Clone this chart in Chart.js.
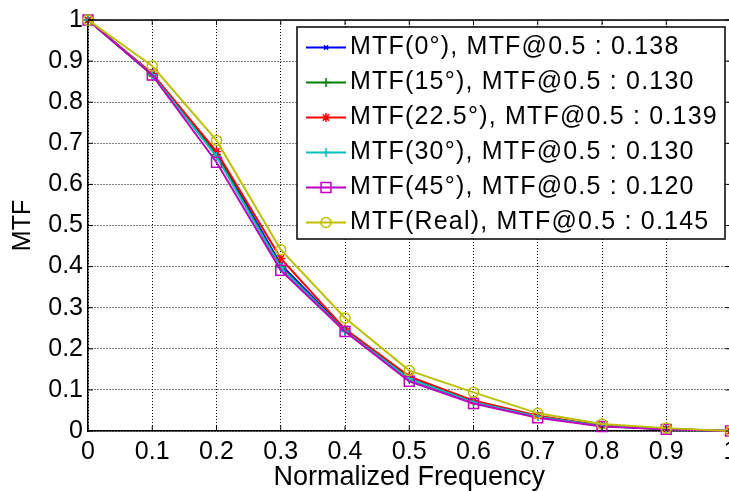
<!DOCTYPE html>
<html lang="en">
<head>
<meta charset="UTF-8">
<title>MTF vs Normalized Frequency</title>
<script src="https://cdn.jsdelivr.net/npm/chart.js@4.4.5/dist/chart.umd.min.js"></script>
<style>
    html, body { margin: 0; padding: 0; background: #fff; overflow: hidden; }
    #wrap { width: 729px; height: 491px; overflow: hidden; }
</style>
</head>
<body>
<div id="wrap">
    <canvas id="myChart" width="745" height="500"></canvas>
</div>

<script>
    // normalized frequency (x) and MTF curves
    const freq = [0, 0.1, 0.2, 0.3, 0.4, 0.5, 0.6, 0.7, 0.8, 0.9, 1];
    const mtf0 = [1, 0.868, 0.678, 0.405, 0.246, 0.131, 0.071, 0.036, 0.013, 0.005, 0];
    const mtf15 = [1, 0.866, 0.672, 0.400, 0.244, 0.127, 0.070, 0.035, 0.012, 0.004, 0];
    const mtf225 = [1, 0.870, 0.680, 0.420, 0.248, 0.133, 0.074, 0.037, 0.013, 0.005, 0];
    const mtf30 = [1, 0.867, 0.668, 0.398, 0.243, 0.127, 0.070, 0.035, 0.012, 0.004, 0];
    const mtf45 = [1, 0.866, 0.654, 0.391, 0.242, 0.121, 0.067, 0.032, 0.011, 0.004, 0];
    const mtfReal = [1, 0.888, 0.707, 0.441, 0.275, 0.147, 0.094, 0.043, 0.017, 0.007, 0];

    const seriesLabels = [
        'MTF(0°), MTF@0.5 : 0.138',
        'MTF(15°), MTF@0.5 : 0.130',
        'MTF(22.5°), MTF@0.5 : 0.139',
        'MTF(30°), MTF@0.5 : 0.130',
        'MTF(45°), MTF@0.5 : 0.120',
        'MTF(Real), MTF@0.5 : 0.145'
    ];
    const xTicks = [0, 0.1, 0.2, 0.3, 0.4, 0.5, 0.6, 0.7, 0.8, 0.9, 1];
    const yTicks = [0, 0.1, 0.2, 0.3, 0.4, 0.5, 0.6, 0.7, 0.8, 0.9, 1];

    const FONT = "'Liberation Sans', Arial, sans-serif";
    Chart.defaults.font.family = FONT;
    Chart.defaults.color = '#000';

    const colors = ['#0000ff', '#008000', '#ff0000', '#00bfbf', '#bf00bf', '#bfbf00'];
    const markers = [
        {style: 'crossRot', r: 3},
        {style: 'cross', r: 4.5},
        {style: 'star', r: 4.5},
        {style: 'cross', r: 4.5},
        {style: 'rect', r: 7},
        {style: 'circle', r: 5}
    ];
    const curves = [mtf0, mtf15, mtf225, mtf30, mtf45, mtfReal];

    function pts(ys) {
        return freq.map((f, i) => ({x: f, y: ys[i]}));
    }

    const datasets = curves.map((ys, i) => ({
        label: seriesLabels[i],
        data: pts(ys),
        borderColor: colors[i],
        backgroundColor: 'rgba(0,0,0,0)',
        borderWidth: 2,
        pointStyle: markers[i].style,
        pointRadius: markers[i].r,
        pointBorderWidth: 1.5,
        pointBorderColor: colors[i],
        pointBackgroundColor: 'rgba(0,0,0,0)',
        tension: 0,
        clip: false,
        order: 5 - i   // later series on top, like MATLAB
    }));

    // frame, inward ticks and the boxed legend
    const matlabBox = {
        id: 'matlabBox',
        afterDraw(chart) {
            const ctx = chart.ctx;
            const xs = chart.scales.x, ys = chart.scales.y;
            ctx.save();
            ctx.strokeStyle = '#000';
            ctx.lineWidth = 1.5;
            ctx.beginPath();
            ctx.moveTo(xs.left, ys.top);
            ctx.lineTo(xs.right, ys.top);
            ctx.lineTo(xs.right, ys.bottom);
            ctx.stroke();

            ctx.lineWidth = 1;
            ctx.beginPath();
            xTicks.forEach(v => {
                const px = xs.getPixelForValue(v);
                ctx.moveTo(px, ys.bottom); ctx.lineTo(px, ys.bottom - 5);
                ctx.moveTo(px, ys.top); ctx.lineTo(px, ys.top + 5);
            });
            yTicks.forEach(v => {
                const py = ys.getPixelForValue(v);
                ctx.moveTo(xs.left, py); ctx.lineTo(xs.left + 5, py);
                ctx.moveTo(xs.right, py); ctx.lineTo(xs.right - 5, py);
            });
            ctx.stroke();

            // legend
            const bx = 297, by = 27, bw = 428, bh = 212;
            ctx.fillStyle = '#fff';
            ctx.fillRect(bx, by, bw, bh);
            ctx.lineWidth = 1.5;
            ctx.strokeRect(bx, by, bw, bh);

            ctx.font = '25px ' + FONT;
            ctx.letterSpacing = '1.2px';
            ctx.textBaseline = 'middle';
            ctx.textAlign = 'left';
            chart.data.datasets.forEach((ds, i) => {
                const cy = by + 20.5 + i * 35;
                ctx.strokeStyle = ds.borderColor;
                ctx.lineWidth = 2;
                ctx.setLineDash([]);
                ctx.beginPath();
                ctx.moveTo(306, cy);
                ctx.lineTo(346, cy);
                ctx.stroke();
                ctx.fillStyle = 'rgba(0,0,0,0)';
                ctx.lineWidth = 1.5;
                Chart.helpers.drawPoint(ctx, {
                    pointStyle: ds.pointStyle,
                    radius: ds.pointRadius,
                    rotation: 0,
                    borderWidth: 1.5
                }, 326, cy);
                ctx.fillStyle = '#000';
                ctx.fillText(ds.label, 350, cy);
            });
            ctx.letterSpacing = '0px';
            ctx.restore();
        }
    };

    const config = {
        type: 'line',
        data: {datasets: datasets},
        options: {
            responsive: false,
            animation: false,
            events: [],
            layout: {padding: {top: 20, right: 14.5, left: 0, bottom: 0}},
            scales: {
                x: {
                    type: 'linear',
                    min: 0,
                    max: 1,
                    afterFit: s => { s.height = 69; },
                    afterBuildTicks: s => { s.ticks = xTicks.map(v => ({value: v})); },
                    ticks: {
                        padding: 6,
                        maxRotation: 0,
                        font: {size: 25},
                        callback: v => String(v)
                    },
                    grid: {color: '#000', lineWidth: 1, drawTicks: false},
                    border: {color: '#000', width: 1.5, dash: [1, 2]},
                    title: {
                        display: true,
                        text: 'Normalized Frequency',
                        font: {size: 27},
                        padding: {top: 0, bottom: 6}
                    }
                },
                y: {
                    min: 0,
                    max: 1,
                    afterFit: s => { s.width = 88; },
                    afterBuildTicks: s => { s.ticks = yTicks.map(v => ({value: v})); },
                    ticks: {
                        padding: 5,
                        font: {size: 25},
                        callback: v => String(v)
                    },
                    grid: {color: '#000', lineWidth: 1, drawTicks: false},
                    border: {color: '#000', width: 1.5, dash: [1, 2]},
                    title: {
                        display: true,
                        text: 'MTF',
                        font: {size: 25},
                        padding: {top: 8.5, bottom: 0}
                    }
                }
            },
            plugins: {
                legend: {display: false},
                tooltip: {enabled: false}
            }
        },
        plugins: [matlabBox]
    };

    const ctx = document.getElementById('myChart').getContext('2d');
    const myChart = new Chart(ctx, config);
</script>
</body>
</html>
